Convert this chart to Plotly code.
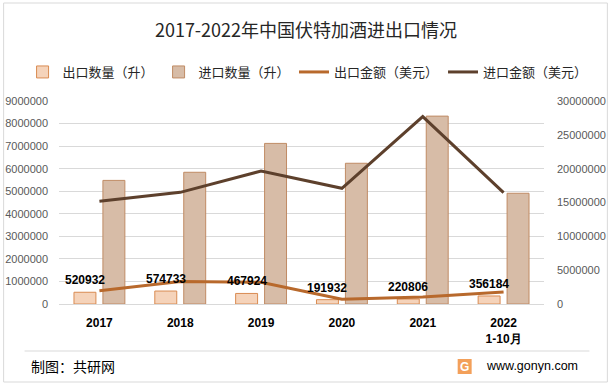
import plotly.graph_objects as go

years = ["2017", "2018", "2019", "2020", "2021", "2022<br>1-10月"]
export_qty = [520932, 574733, 467924, 191932, 220806, 356184]
import_qty = [5480000, 5840000, 7120000, 6240000, 8330000, 4910000]
export_amt = [1970000, 3330000, 3200000, 700000, 1030000, 1770000]
import_amt = [15200000, 16500000, 19650000, 17100000, 27700000, 16450000]

W, H = 612, 386
L, R, T, B = 58.5, 544.5, 101, 304
pw, ph = R - L, B - T
cat_px = pw / len(years)

def px(x):
    return (x - L) / pw

def py(y):
    return (B - y) / ph

CJK = "Noto Sans CJK SC"
NUM = "Liberation Sans"

bar_w = 22 / cat_px
gap = 7 / cat_px

fig = go.Figure()
fig.add_trace(go.Bar(
    x=years, y=export_qty, name="出口数量（升）", legendrank=1, legend="legend",
    width=bar_w, offset=-gap / 2 - bar_w,
    marker=dict(color="#F5D3BA", line=dict(color="#D98B52", width=1)),
    yaxis="y",
))
fig.add_trace(go.Bar(
    x=years, y=import_qty, name="进口数量（升）", legendrank=2, legend="legend",
    width=bar_w, offset=gap / 2,
    marker=dict(color="#D7BCA7", line=dict(color="#C08B64", width=1)),
    yaxis="y",
))
fig.add_trace(go.Scatter(
    x=years, y=export_amt, name="出口金额（美元）", mode="lines", legendrank=3,
    legend="legend2",
    line=dict(color="#B8692C", width=3), yaxis="y2",
))
fig.add_trace(go.Scatter(
    x=years, y=import_amt, name="进口金额（美元）", mode="lines", legendrank=4,
    legend="legend2",
    line=dict(color="#5D402C", width=3), yaxis="y2",
))

shapes = [
    dict(type="rect", xref="paper", yref="paper",
         x0=px(3), x1=px(608), y0=py(3), y1=py(382),
         line=dict(color="#D9D9D9", width=1), fillcolor="rgba(0,0,0,0)", layer="below"),
    dict(type="line", xref="paper", yref="paper",
         x0=px(24), x1=px(590), y0=py(351), y1=py(351),
         line=dict(color="#D9D9D9", width=1)),
    dict(type="rect", xref="paper", yref="paper",
         x0=px(458), x1=px(472), y0=py(359), y1=py(374),
         line=dict(width=0), fillcolor="#F3A05A"),
]

annotations = [
    dict(text="制图：共研网", xref="paper", yref="paper", x=px(28), y=py(366),
         xanchor="left", yanchor="middle", showarrow=False,
         font=dict(family=CJK, size=14, color="#000000")),
    dict(text="www.gonyn.com", xref="paper", yref="paper", x=px(484), y=py(366),
         xanchor="left", yanchor="middle", showarrow=False,
         font=dict(family=NUM, size=12.5, color="#000000")),
    dict(text="<b>G</b>", xref="paper", yref="paper", x=px(465), y=py(366.5),
         xanchor="center", yanchor="middle", showarrow=False,
         font=dict(family=NUM, size=12, color="#FFFFFF")),
]

# export quantity data labels, placed on the data through the axes, drawn above all lines
label_shift = -(gap / 2 + bar_w / 2) * cat_px
for i, v in enumerate(export_qty):
    annotations.append(dict(
        text=str(v), x=i, y=v, xref="x", yref="y",
        xanchor="center", yanchor="bottom", xshift=label_shift, yshift=3,
        showarrow=False,
        font=dict(family=NUM, size=12, color="#000000", weight="bold"),
    ))

legend_common = dict(orientation="h", xanchor="left", yanchor="middle", y=py(72),
                     font=dict(family=CJK, size=13, color="#262626"),
                     bgcolor="rgba(0,0,0,0)", itemwidth=30, tracegroupgap=0)

fig.update_layout(
    width=W, height=H,
    margin=dict(l=L, r=W - R, t=T, b=H - B, pad=0, autoexpand=False),
    paper_bgcolor="#FFFFFF", plot_bgcolor="#FFFFFF",
    title=dict(text="2017-2022年中国伏特加酒进出口情况", x=0.5, xanchor="center",
               y=1 - 31 / H, yref="container", yanchor="middle",
               font=dict(family=CJK, size=18, color="#262626")),
    barmode="overlay",
    showlegend=True,
    legend=dict(x=px(22), **legend_common),
    legend2=dict(x=px(294), **legend_common),
    xaxis=dict(type="category", categoryorder="array", categoryarray=years,
               range=[-0.5, len(years) - 0.5],
               showgrid=False, showline=False, ticks="",
               tickfont=dict(family=NUM, size=12, color="#000000", weight="bold"),
               ticklabelstandoff=10),
    yaxis=dict(range=[0, 9000000], dtick=1000000, tickformat="d",
               showgrid=True, gridcolor="#D9D9D9", gridwidth=1,
               zeroline=True, zerolinecolor="#D9D9D9", zerolinewidth=1,
               showline=False, ticks="", ticklabelstandoff=10,
               tickfont=dict(family=NUM, size=11, color="#595959")),
    yaxis2=dict(range=[0, 30000000], dtick=5000000, tickformat="d",
                overlaying="y", side="right", showgrid=False, zeroline=False,
                showline=False, ticks="", ticklabelstandoff=12,
                tickfont=dict(family=NUM, size=11, color="#595959")),
    shapes=shapes, annotations=annotations,
)

fig.write_html("out.html", config={"displayModeBar": False},
               post_script="document.body.style.margin='0';")
